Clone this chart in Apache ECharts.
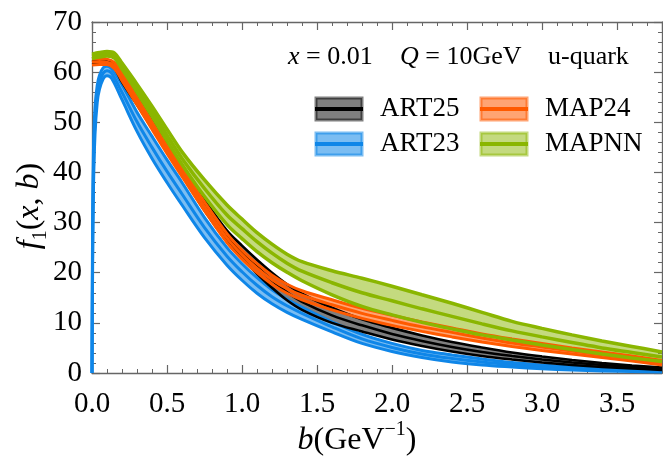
<!DOCTYPE html>
<html><head><meta charset="utf-8">
<script src="https://cdn.jsdelivr.net/npm/echarts@6/dist/echarts.min.js"></script>
<style>html,body{margin:0;padding:0;background:#fff}#c{width:663px;height:474px}</style>
</head><body><div id="c"></div>
<script>
// ---------- data ----------
const bGrid = [0,0.05,0.1,0.15,0.2,0.3,0.4,0.5,0.6,0.75,0.9,1.0,1.1,1.2,1.3,1.4,1.6,1.8,2.0,2.2,2.4,2.6,2.8,3.0,3.2,3.4,3.6,3.8];
const bBlue = [0,0.004,0.01,0.02,0.035,0.05,0.075,0.1,0.13,0.2,0.3,0.4,0.5,0.6,0.75,0.9,1.0,1.1,1.2,1.3,1.4,1.6,1.8,2.0,2.2,2.4,2.6,2.8,3.0,3.2,3.4,3.6,3.8];

const mapnnLow = [62.7,63.0,63.2,62.8,60.6,56.0,51.2,46.3,41.6,35.2,29.6,26.8,24.2,22.0,20.1,18.4,15.6,13.3,11.6,10.1,8.8,7.6,6.6,5.6,4.7,3.8,3.0,2.3];
const mapnnMid = [63.2,63.5,63.7,63.3,61.2,56.8,52.2,47.4,42.8,36.8,31.5,28.8,26.2,23.9,21.9,20.3,18.0,16.0,14.4,12.8,11.3,9.8,8.4,7.2,6.1,5.0,4.1,3.2];
const mapnnUp  = [63.6,63.9,64.1,63.8,61.8,57.6,53.2,48.6,44.1,38.5,33.5,30.7,28.0,25.7,23.7,22.2,20.4,18.9,17.3,15.6,13.9,12.1,10.3,8.9,7.6,6.4,5.3,4.2];

const map24Low = [61.4,61.5,61.5,60.7,58.3,53.5,48.6,43.8,39.2,32.4,26.0,22.7,20.0,17.7,15.9,14.6,12.6,10.9,9.5,8.3,7.2,6.2,5.3,4.5,3.8,3.1,2.4,1.6];
const map24Mid = [62.0,62.1,62.0,61.3,59.0,54.2,49.3,44.5,40.0,33.2,26.9,23.6,20.9,18.6,16.8,15.5,13.6,11.9,10.5,9.2,8.1,7.0,6.0,5.2,4.4,3.6,2.9,2.0];
const map24Up  = [62.6,62.7,62.6,61.9,59.7,55.0,50.1,45.3,40.8,34.1,27.8,24.5,21.8,19.5,17.7,16.4,14.6,12.9,11.5,10.2,9.0,7.8,6.8,5.9,5.0,4.2,3.4,2.5];

const art25Low = [61.6,61.7,61.6,60.8,58.0,53.5,48.8,44.0,39.5,32.4,26.2,22.8,19.8,17.0,14.5,12.6,10.0,8.3,6.7,5.4,4.3,3.4,2.7,2.1,1.6,1.2,0.9,0.6];
const art25Mid = [61.9,62.0,61.9,61.1,58.7,54.3,49.6,44.9,40.5,33.5,27.3,24.1,21.2,18.5,16.1,14.2,11.5,9.5,7.8,6.4,5.2,4.2,3.4,2.7,2.1,1.6,1.2,0.8];
const art25Up  = [62.2,62.3,62.2,61.5,59.5,55.2,50.5,45.8,41.5,34.6,28.4,25.4,22.6,20.0,17.7,15.8,13.0,10.7,9.0,7.5,6.2,5.1,4.1,3.3,2.6,2.0,1.5,1.1];

const art23Low = [0,20,37,47.5,54,56.6,58.7,59.3,58.8,54.5,48.2,42.8,38,33.5,27,21.5,18.5,15.9,13.8,12.1,10.7,8.2,5.9,4.3,3.1,2.2,1.6,1.2,0.85,0.6,0.4,0.3,0.2];
const art23Mid = [0,25,41,50.3,55.8,58.0,59.8,60.3,59.8,56,50.1,45,40.2,35.7,29,23.3,20.2,17.5,15.2,13.4,11.9,9.2,6.8,5.1,3.8,2.9,2.2,1.65,1.2,0.9,0.65,0.45,0.3];
const art23Up  = [0,30,45,53,57.4,59.4,60.9,61.2,60.7,57.5,52,47.2,42.5,38,31,25.0,21.8,19.0,16.6,14.7,13.1,10.2,7.7,5.9,4.5,3.6,2.8,2.1,1.6,1.2,0.9,0.6,0.4];

const xTicks = [0,0.5,1.0,1.5,2.0,2.5,3.0,3.5];
const yTicks = [0,10,20,30,40,50,60,70];
const legendNames = ['ART25','MAP24','ART23','MAPNN'];

// ---------- styling ----------
const SERIF = '"Liberation Serif", "DejaVu Serif", serif';
const bands = [
  {name:'ART23', b:bBlue, low:art23Low, mid:art23Mid, up:art23Up, color:'#0f86e8', fill:'rgba(15,134,232,0.55)', lw:3},
  {name:'ART25', b:bGrid, low:art25Low, mid:art25Mid, up:art25Up, color:'#000000', fill:'rgba(0,0,0,0.5)', lw:2.6},
  {name:'MAP24', b:bGrid, low:map24Low, mid:map24Mid, up:map24Up, color:'#ff5a00', fill:'rgba(255,90,0,0.55)', lw:3},
  {name:'MAPNN', b:bGrid, low:mapnnLow, mid:mapnnMid, up:mapnnUp, color:'#8ab600', fill:'rgba(138,182,0,0.5)', lw:3.5}
];
const pairs = (xs, ys) => xs.map((x,i)=>[x, ys[i]]);

const series = [];
bands.forEach((bd, k) => {
  series.push({type:'custom', coordinateSystem:'cartesian2d', data:[[0,0]], silent:true,
    renderItem:(params, api) => {
      const pts = [];
      bd.b.forEach((x,i)=>pts.push(api.coord([x, bd.low[i]])));
      for (let i=bd.b.length-1;i>=0;i--) pts.push(api.coord([bd.b[i], bd.up[i]]));
      const cs = params.coordSys;
      return {type:'polygon', shape:{points: echarts.graphic.clipPointsByRect(pts, {x:cs.x, y:cs.y, width:cs.width, height:cs.height})},
        style:{fill:bd.fill, stroke:null}};
    }});
  [bd.low, bd.mid, bd.up].forEach(arr => {
    series.push({type:'line', data:pairs(bd.b, arr), showSymbol:false, smooth:0.35,
      lineStyle:{color:bd.color, width:bd.lw}, silent:true});
  });
});

// legend graphics
const legendPos = {ART25:[316,98], MAP24:[481,98], ART23:[316,133], MAPNN:[481,133]};
const graphics = [];
legendNames.forEach(n => {
  const bd = bands.find(b => b.name === n);
  const [x,y] = legendPos[n];
  graphics.push({type:'rect', shape:{x:x, y:y, width:46, height:22}, style:{fill:bd.fill, stroke:bd.fill, lineWidth:3}, z:100});
  graphics.push({type:'line', shape:{x1:x-1, y1:y+11, x2:x+47, y2:y+11}, style:{stroke:bd.color, lineWidth:4}, z:101});
  graphics.push({type:'text', x:x+64, y:y+11, style:{text:n, font:'27px ' + SERIF, fill:'#000', verticalAlign:'middle', align:'left'}, z:101});
});
// annotation
const annFont = 26;
graphics.push({type:'text', x:288, y:57, style:{
  text:'{i|x} = 0.01', rich:{i:{fontStyle:'italic', fontFamily:SERIF, fontSize:annFont}}, fontFamily:SERIF, fontSize:annFont, fill:'#000', verticalAlign:'middle'}, z:101});
graphics.push({type:'text', x:400, y:57, style:{
  text:'{i|Q} = 10GeV', rich:{i:{fontStyle:'italic', fontFamily:SERIF, fontSize:annFont}}, fontFamily:SERIF, fontSize:annFont, fill:'#000', verticalAlign:'middle'}, z:101});
graphics.push({type:'text', x:548, y:57, style:{
  text:'u-quark', fontFamily:SERIF, fontSize:annFont, fill:'#000', verticalAlign:'middle'}, z:101});
// axis names
graphics.push({type:'text', x:357, y:441, style:{
  text:'{i|b}{n|(GeV}{s|−1}{n|)}',
  rich:{
    i:{fontStyle:'italic', fontFamily:SERIF, fontSize:32, lineHeight:42, verticalAlign:'middle'},
    n:{fontFamily:SERIF, fontSize:32, lineHeight:42, verticalAlign:'middle'},
    s:{fontFamily:SERIF, fontSize:20, lineHeight:20, verticalAlign:'top'}
  }, fill:'#000', align:'center', verticalAlign:'middle'}, z:101});
graphics.push({type:'text', x:30, y:206, rotation:Math.PI/2, style:{
  text:'{i|f}{s|1}{n|(}{i|x}{n|, }{i|b}{n|)}',
  rich:{
    i:{fontStyle:'italic', fontFamily:SERIF, fontSize:32, lineHeight:42, verticalAlign:'middle'},
    n:{fontFamily:SERIF, fontSize:32, lineHeight:42, verticalAlign:'middle'},
    s:{fontFamily:SERIF, fontSize:20, lineHeight:20, verticalAlign:'bottom'}
  }, fill:'#000', align:'center', verticalAlign:'middle'}, z:101});

const axisCol = '#666';
const xCommon = {type:'value', min:0, max:3.8, interval:0.5,
  axisLine:{show:true, onZero:false, lineStyle:{color:axisCol, width:1.3}},
  axisTick:{show:true, inside:true, length:8, lineStyle:{color:axisCol, width:1.2}},
  minorTick:{show:true, splitNumber:5, length:4, lineStyle:{color:axisCol, width:1}},
  splitLine:{show:false}};
const yCommon = {type:'value', min:0, max:70, interval:10,
  axisLine:{show:true, onZero:false, lineStyle:{color:axisCol, width:1.3}},
  axisTick:{show:true, inside:true, length:8, lineStyle:{color:axisCol, width:1.2}},
  minorTick:{show:true, splitNumber:5, length:4, lineStyle:{color:axisCol, width:1}},
  splitLine:{show:false}};

const chart = echarts.init(document.getElementById('c'), null, {renderer:'canvas'});
chart.setOption({
  animation:false,
  backgroundColor:'#fff',
  grid:{left:92, right:1, top:22, bottom:101, containLabel:false, outerBoundsMode:'none'},
  xAxis:[
    Object.assign({}, xCommon, {position:'bottom',
      axisLabel:{show:true, margin:17, fontFamily:SERIF, fontSize:29, color:'#000', showMaxLabel:false,
        formatter:v => xTicks.some(t=>Math.abs(t-v)<1e-9) ? v.toFixed(1) : ''}}),
    Object.assign({}, xCommon, {position:'top', axisLabel:{show:false}})
  ],
  yAxis:[
    Object.assign({}, yCommon, {position:'left',
      axisLabel:{show:true, margin:10, fontFamily:SERIF, fontSize:29, color:'#000',
        formatter:v => yTicks.includes(v) ? String(v) : ''}}),
    Object.assign({}, yCommon, {position:'right', axisLabel:{show:false}})
  ],
  series: series,
  graphic: graphics
});
</script></body></html>
